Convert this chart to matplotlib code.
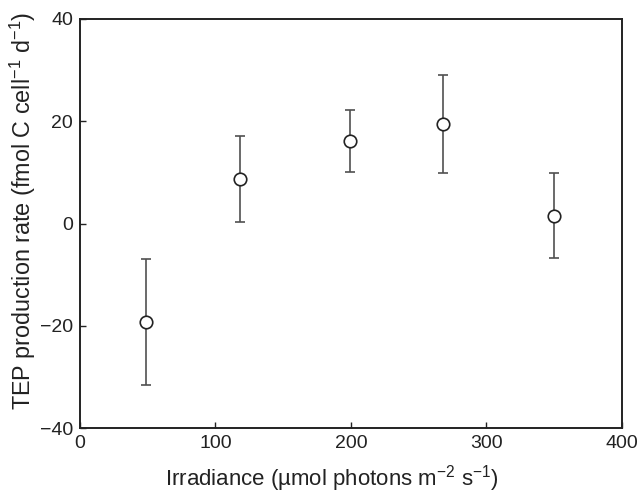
import matplotlib
matplotlib.use("Agg")
import matplotlib.pyplot as plt

# Irradiance levels and TEP production rates (mean +/- error)
irradiance = [49, 118, 199, 268, 350]
tep_rate = [-19.2, 8.7, 16.1, 19.4, 1.5]
err_low = [-31.5, 0.2, 10.1, 9.8, -6.8]
err_high = [-6.9, 17.1, 22.2, 29.0, 9.9]

x_ticks = [0, 100, 200, 300, 400]
y_ticks = [-40, -20, 0, 20, 40]

plt.rcParams["font.family"] = ["Liberation Sans", "DejaVu Sans"]
plt.rcParams["mathtext.fontset"] = "custom"
plt.rcParams["mathtext.rm"] = "Liberation Sans"
plt.rcParams["mathtext.it"] = "Liberation Sans"

fig = plt.figure(figsize=(6.43, 4.96), dpi=100)
ax = fig.add_axes([0.1244, 0.137, 0.8426, 0.8247])

yerr = [
    [m - lo for m, lo in zip(tep_rate, err_low)],
    [hi - m for m, hi in zip(tep_rate, err_high)],
]
ax.errorbar(
    irradiance, tep_rate, yerr=yerr,
    fmt="o", markersize=9, markerfacecolor="white",
    markeredgecolor="#222222", markeredgewidth=1.2,
    ecolor="#505050", elinewidth=1.2, capsize=3.6, capthick=1.2,
    zorder=3,
)

ax.set_xlim(0, 400)
ax.set_ylim(-40, 40)
ax.set_xticks(x_ticks)
ax.set_yticks(y_ticks)
ax.tick_params(direction="in", length=4, width=1, labelsize=14, colors="#222222", pad=5)

for side in ["left", "right", "top", "bottom"]:
    ax.spines[side].set_linewidth(1.4)
    ax.spines[side].set_color("#222222")

ax.set_xlabel(r"Irradiance (µmol photons m$^{−2}$ s$^{−1}$)", fontsize=16, color="#222222")
ax.set_ylabel(r"TEP production rate (fmol C cell$^{−1}$ d$^{−1}$)", fontsize=16.8, color="#222222")
ax.xaxis.set_label_coords(0.464, -0.085)
ax.yaxis.set_label_coords(-0.078, 0.53)

fig.savefig("out.png", dpi=100)
